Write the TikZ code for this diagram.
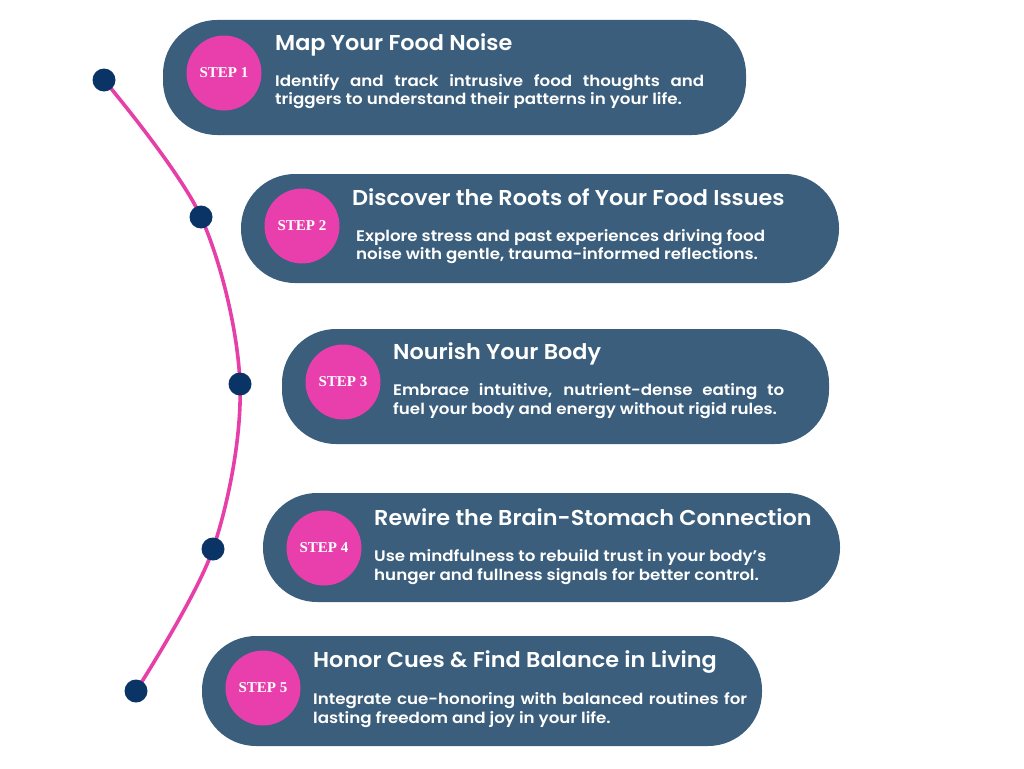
\documentclass[tikz,border=0pt]{standalone}
\usepackage{fontspec}
\newfontfamily\ttlfont{Poppins SemiBold}[FakeStretch=1.04]
\newfontfamily\descfont{Poppins SemiBold}[FakeStretch=1.09]
\setmainfont{Liberation Serif}
\begin{document}
\begin{tikzpicture}[x=1pt,y=-1pt,
  pill/.style={fill=pillc, rounded corners=54pt, inner sep=0, draw=none},
  stepc/.style={circle, fill=pinkc, minimum size=75pt, inner sep=0, text=white, font=\bfseries\fontsize{15}{16}\selectfont},
  dot/.style={circle, fill=dotc, minimum size=23pt, inner sep=0},
  ttl/.style={anchor=base west, inner sep=0, text=white, font=\ttlfont\fontsize{21.5}{24}\selectfont},
  desc/.style={anchor=base west, inner sep=0, text=white, font=\descfont\fontsize{15.3}{18}\selectfont},
  arc/.style={draw=linec, line width=3.6pt}
]
\definecolor{pillc}{HTML}{3A5E7C}
\definecolor{pinkc}{HTML}{E83FAD}
\definecolor{linec}{HTML}{E640A8}
\definecolor{dotc}{HTML}{0B3466}
\fill[white] (0,0) rectangle (1024,768);
\useasboundingbox (0,0) rectangle (1024,768);

% connector curve
\coordinate (c1) at (104,80);
\coordinate (c2) at (201,217);
\coordinate (c3) at (240,384);
\coordinate (c4) at (213,549);
\coordinate (c5) at (136,691);
\draw[arc] plot[smooth, tension=0.55] coordinates {(c1) (c2) (c3) (c4) (c5)};
\node[dot] (d1) at (c1) {};
\node[dot] (d2) at (c2) {};
\node[dot] (d3) at (c3) {};
\node[dot] (d4) at (c4) {};
\node[dot] (d5) at (c5) {};

% pills
\node[pill, minimum width=583pt, minimum height=115pt] (p1) at (454.5,77.5) {};
\node[pill, minimum width=598pt, minimum height=109pt] (p2) at (540,228.5) {};
\node[pill, minimum width=547pt, minimum height=115pt] (p3) at (555.5,386.5) {};
\node[pill, minimum width=577pt, minimum height=109pt] (p4) at (551.5,547.5) {};
\node[pill, minimum width=560pt, minimum height=110pt] (p5) at (482,691) {};

% step circles
\node[stepc] (s1) at (224,73) {STEP 1};
\node[stepc] (s2) at (302,226) {STEP 2};
\node[stepc] (s3) at (343,382) {STEP 3};
\node[stepc] (s4) at (324,548) {STEP 4};
\node[stepc] (s5) at (263,688) {STEP 5};

% texts
\node[ttl] (t1) at (275,50) {Map Your Food Noise};
\node[desc] (a1) at (275,86) {\makebox[429pt][s]{Identify and track intrusive food thoughts and}};
\node[desc] (b1) at (275,104) {triggers to understand their patterns in your life.};

\node[ttl] (t2) at (352,205) {Discover the Roots of Your Food Issues};
\node[desc] (a2) at (356,241) {Explore stress and past experiences driving food};
\node[desc] (b2) at (356,259) {noise with gentle, trauma-informed reflections.};

\node[ttl] (t3) at (393,359) {Nourish Your Body};
\node[desc] (a3) at (393,395) {\makebox[391pt][s]{Embrace intuitive, nutrient-dense eating to}};
\node[desc] (b3) at (393,414) {fuel your body and energy without rigid rules.};

\node[ttl] (t4) at (374,525) {Rewire the Brain-Stomach Connection};
\node[desc] (a4) at (374,561) {Use mindfulness to rebuild trust in your body’s};
\node[desc] (b4) at (374,580) {hunger and fullness signals for better control.};

\node[ttl] (t5) at (313,667) {Honor Cues \& Find Balance in Living};
\node[desc] (a5) at (313,704) {\makebox[434pt][s]{Integrate cue-honoring with balanced routines for}};
\node[desc] (b5) at (313,723) {lasting freedom and joy in your life.};
\end{tikzpicture}
\end{document}
